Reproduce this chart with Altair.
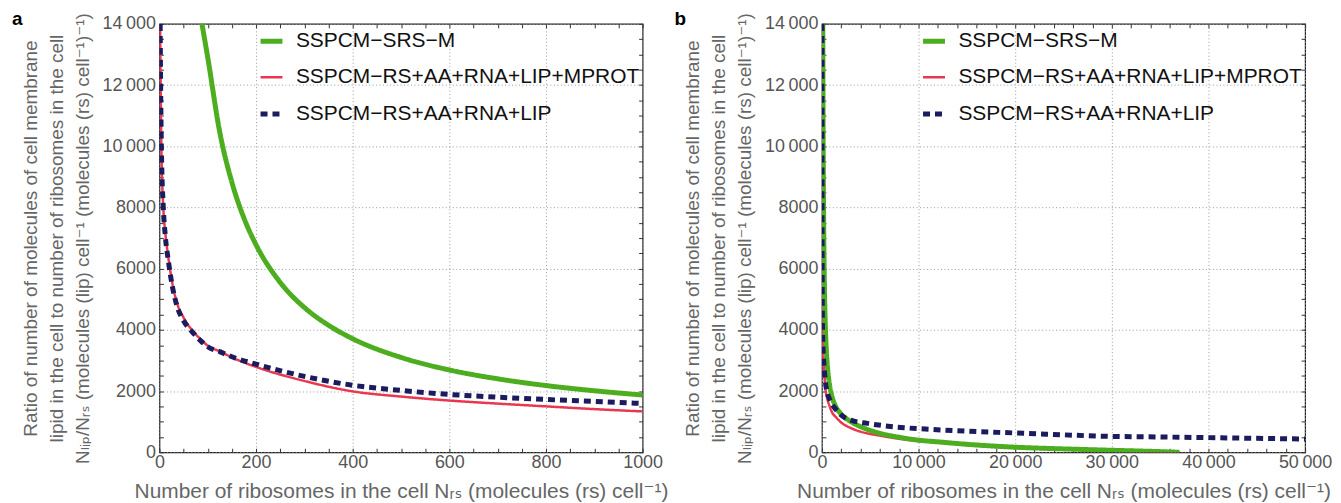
import altair as alt
import pandas as pd

SERIES = ["SSPCM\u2212SRS\u2212M", "SSPCM\u2212RS+AA+RNA+LIP+MPROT", "SSPCM\u2212RS+AA+RNA+LIP"]
COLORS = ["#4cad1f", "#e8374f", "#1b1b5f"]
WIDTHS = [5, 2.5, 5]
DASHES = [[1, 0], [1, 0], [7, 5]]

# SSPCM-SRS-M
x_srs = [88, 100, 125, 150, 175, 200, 250, 300, 350, 400, 500, 600, 700, 800, 900, 1000,
         1500, 1920, 3000, 4000, 6000, 8000, 10000, 12000, 15000, 20000, 25000, 30000, 34000, 37000]
y_srs = [14000, 12900, 10450, 8820, 7650, 6780, 5550, 4730, 4150, 3710, 3100, 2690, 2400, 2180, 2010, 1870,
         1450, 1270, 1000, 836, 620, 490, 395, 340, 260, 165, 110, 65, 30, 0]

# SSPCM-RS+AA+RNA+LIP+MPROT
x_mprot = [1.5, 2.5, 4, 8, 12, 19, 27, 36, 50, 67, 85, 100, 126, 150, 200, 300, 400, 500, 600, 700, 800, 900, 1000,
           1500, 1920, 3000, 4000, 6000, 8000, 10000, 12000, 15000, 20000, 25000, 30000, 34000, 37000]
y_mprot = [14000, 12000, 10000, 8000, 7200, 6300, 5500, 4900, 4400, 4000, 3700, 3480, 3290, 3100, 2790, 2330, 1990,
           1820, 1690, 1590, 1500, 1410, 1335, 1130, 993, 790, 673, 543, 440, 365, 322, 240, 140, 90, 50, 20, 0]

# SSPCM-RS+AA+RNA+LIP
x_lip = [1.5, 2.5, 4, 8, 12, 19, 27, 36, 50, 67, 85, 100, 126, 150, 200, 300, 400, 500, 600, 700, 800, 900, 1000,
         1500, 2000, 3000, 4700, 6400, 8500, 11200, 15000, 20000, 25000, 28300, 35000, 40000, 45000, 50000]
y_lip = [14000, 12000, 10000, 8000, 7100, 6200, 5400, 4800, 4300, 3950, 3650, 3450, 3280, 3120, 2880, 2480, 2190,
         2020, 1890, 1800, 1725, 1660, 1595, 1380, 1210, 1050, 944, 868, 803, 749, 690, 630, 570, 531, 500, 478, 455, 433]

Y_TICKS = list(range(0, 14001, 500))

XTITLE = "Number of ribosomes in the cell N\u1d63\u209b (molecules (rs) cell\u207b\u00b9)"
YTITLE = ["Ratio of number of molecules of cell membrane",
          "lipid in the cell to number of ribosomes in the cell",
          "N\u2097\u1d62\u209a/N\u1d63\u209b (molecules (lip) cell\u207b\u00b9 (molecules (rs) cell\u207b\u00b9)\u207b\u00b9)"]

FONT = "Liberation Sans, Arial, DejaVu Sans"

rows = []
for s, xs, ys in [(SERIES[0], x_srs, y_srs), (SERIES[1], x_mprot, y_mprot), (SERIES[2], x_lip, y_lip)]:
    for a, b in zip(xs, ys):
        rows.append({"series": s, "x": a, "y": b})
df = pd.DataFrame(rows)


def fmt_expr(step):
    return (f"datum.value % {step} === 0 ? (datum.value >= 10000 ? "
            f"replace(format(datum.value, ','), ',', '\u2009') : format(datum.value, 'd')) : ''")


def panel(xmax, xstep, xminor, letter):
    data = df[df["x"] <= xmax]
    xticks = list(range(0, xmax + 1, xminor))
    xscale = alt.Scale(domain=[0, xmax], nice=False, zero=True)
    yscale = alt.Scale(domain=[0, 14000], nice=False)
    xenc = alt.X("x:Q", scale=xscale, title=XTITLE,
                 axis=alt.Axis(values=xticks, labelExpr=fmt_expr(xstep), domain=False,
                               tickSize=4, offset=-4, labelPadding=1, titlePadding=9,
                               titleFontSize=21,
                               gridOpacity={"condition": {"test": f"datum.value % {xstep} === 0", "value": 1}, "value": 0}))
    yenc = alt.Y("y:Q", scale=yscale, title=YTITLE,
                 axis=alt.Axis(values=Y_TICKS, labelExpr=fmt_expr(2000), domain=False,
                               tickSize=4, offset=-4, labelPadding=4, titlePadding=10,
                               titleLineHeight=26,
                               gridOpacity={"condition": {"test": "datum.value % 2000 === 0", "value": 1}, "value": 0}))
    legend = alt.Legend(title=None, orient="none", legendX=99, legendY=4, symbolType="stroke",
                        symbolSize=484, labelFontSize=21, labelColor="#111", labelFont=FONT,
                        rowPadding=13, labelOffset=11, padding=0, labelLimit=600)
    color = alt.Color("series:N", scale=alt.Scale(domain=SERIES, range=COLORS), legend=legend,
                      sort=SERIES)
    sw = alt.StrokeWidth("series:N", scale=alt.Scale(type="ordinal", domain=SERIES, range=WIDTHS),
                         legend=legend, sort=SERIES)
    sd = alt.StrokeDash("series:N", scale=alt.Scale(domain=SERIES, range=DASHES), legend=legend,
                        sort=SERIES)
    layers = []
    for s in [SERIES[1], SERIES[0], SERIES[2]]:
        layers.append(
            alt.Chart(data).transform_filter(alt.datum.series == s)
            .mark_line(clip=True, interpolate="monotone", strokeCap="butt")
            .encode(x=xenc, y=yenc, color=color, strokeWidth=sw, strokeDash=sd)
        )
    label = alt.Chart(pd.DataFrame({"t": [letter]})).mark_text(
        fontSize=19, fontWeight="bold", font=FONT, align="left", baseline="alphabetic", color="#000"
    ).encode(text="t:N", x=alt.value(-148), y=alt.value(1))
    inner = alt.layer(*layers, label)
    mirror = alt.Chart(data).mark_point(opacity=0).encode(
        x=alt.X("x:Q", scale=xscale,
                axis=alt.Axis(orient="top", values=xticks, labels=False, grid=False, domain=False,
                              tickSize=4, offset=-4, title=None)),
        y=alt.Y("y:Q", scale=yscale,
                axis=alt.Axis(orient="right", values=Y_TICKS, labels=False, grid=False, domain=False,
                              tickSize=4, offset=-4, title=None)),
    )
    return alt.layer(inner, mirror).resolve_axis(x="independent", y="independent").properties(
        width=485, height=430)


pa = panel(1000, 200, 50, "a")
pb = panel(50000, 10000, 2000, "b")

chart = alt.hconcat(pa, pb, spacing=180, bounds="flush").resolve_scale(
    x="independent", y="independent", color="independent",
    strokeWidth="independent", strokeDash="independent"
).properties(
    padding={"left": 3, "top": 0, "right": 0, "bottom": 0}
).configure_view(
    stroke="#222", strokeWidth=1.2
).configure_axis(
    labelFont=FONT, labelFontSize=18, labelColor="#555", labelFlush=False,
    titleFont=FONT, titleFontSize=19, titleColor="#666", titleFontWeight="normal",
    gridColor="#9a9a9a", gridDash=[1, 2.5], gridWidth=1,
    tickColor="#333", tickWidth=1
)

chart.save("out.html", embed_options={"renderer": "svg", "actions": False})
